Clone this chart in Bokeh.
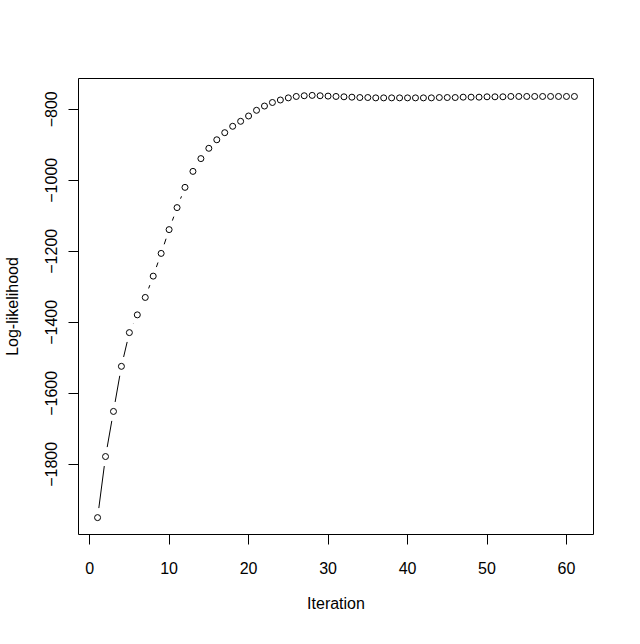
import numpy as np
from bokeh.plotting import figure
from bokeh.models import FixedTicker, Range1d
from bokeh.embed import file_html
from bokeh.resources import INLINE

# ---- data ----
iteration = list(range(1, 62))
loglik = [
    -1950, -1778, -1651, -1524, -1429, -1379, -1330, -1270, -1206, -1139,
    -1077, -1020, -975, -939, -910, -886, -866, -848, -834, -819,
    -803, -791, -781, -774, -768, -764, -762, -761, -762, -763,
    -764, -765, -766, -767, -767, -768, -768, -768, -768, -768,
    -768, -768, -768, -767, -767, -767, -766, -766, -766, -765,
    -765, -765, -764, -764, -764, -764, -764, -764, -764, -764,
    -764,
]
x_ticks = [0, 10, 20, 30, 40, 50, 60]
y_ticks = [-1800, -1600, -1400, -1200, -1000, -800]
x_title = "Iteration"
y_title = "Log-likelihood"

FRAME_W, FRAME_H = 515, 456
GAP_PX = 9.6
FONT = "Liberation Sans"

x = np.array(iteration, dtype=float)
y = np.array(loglik, dtype=float)


def padded(a):
    lo, hi = a.min(), a.max()
    pad = 0.04 * (hi - lo)
    return lo - pad, hi + pad


xr0, xr1 = padded(x)
yr0, yr1 = padded(y)

p = figure(
    frame_width=FRAME_W, frame_height=FRAME_H,
    x_range=Range1d(xr0, xr1), y_range=Range1d(yr0, yr1),
    output_backend="svg", toolbar_location=None,
    min_border_left=78, min_border_top=78,
    min_border_right=39, min_border_bottom=94,
    background_fill_color="white", border_fill_color="white",
)
p.grid.visible = False
p.outline_line_color = "black"
p.outline_line_width = 1
p.outline_line_alpha = 1.0

# line with gaps around points (type = "b")
sx = FRAME_W / (xr1 - xr0)
sy = FRAME_H / (yr1 - yr0)
dx = np.diff(x)
dy = np.diff(y)
L = np.hypot(dx * sx, dy * sy)
keep = L > 2 * GAP_PX
f = np.where(keep, GAP_PX / L, 0.0)
seg_x0 = (x[:-1] + dx * f)[keep]
seg_y0 = (y[:-1] + dy * f)[keep]
seg_x1 = (x[1:] - dx * f)[keep]
seg_y1 = (y[1:] - dy * f)[keep]
p.segment(seg_x0, seg_y0, seg_x1, seg_y1, line_color="black", line_width=1)

p.scatter(x, y, marker="circle", size=6, fill_color=None,
          line_color="black", line_width=1)

for ax, ticks, title in ((p.xaxis[0], x_ticks, x_title), (p.yaxis[0], y_ticks, y_title)):
    ax.ticker = FixedTicker(ticks=ticks)
    ax.minor_tick_line_color = None
    ax.major_tick_in = 0
    ax.major_tick_out = 10
    ax.major_tick_line_color = "black"
    ax.axis_line_color = None
    ax.major_label_text_font = FONT
    ax.major_label_text_font_size = "16px"
    ax.major_label_text_color = "black"
    ax.axis_label = title
    ax.axis_label_text_font = FONT
    ax.axis_label_text_font_size = "16px"
    ax.axis_label_text_font_style = "normal"
    ax.axis_label_text_color = "black"

p.xaxis[0].major_label_standoff = 17
p.xaxis[0].axis_label_standoff = 18
p.yaxis[0].major_label_orientation = "parallel"
p.yaxis[0].major_label_standoff = 11
p.yaxis[0].axis_label_standoff = 22

open("out.html", "w").write(file_html(p, INLINE))
